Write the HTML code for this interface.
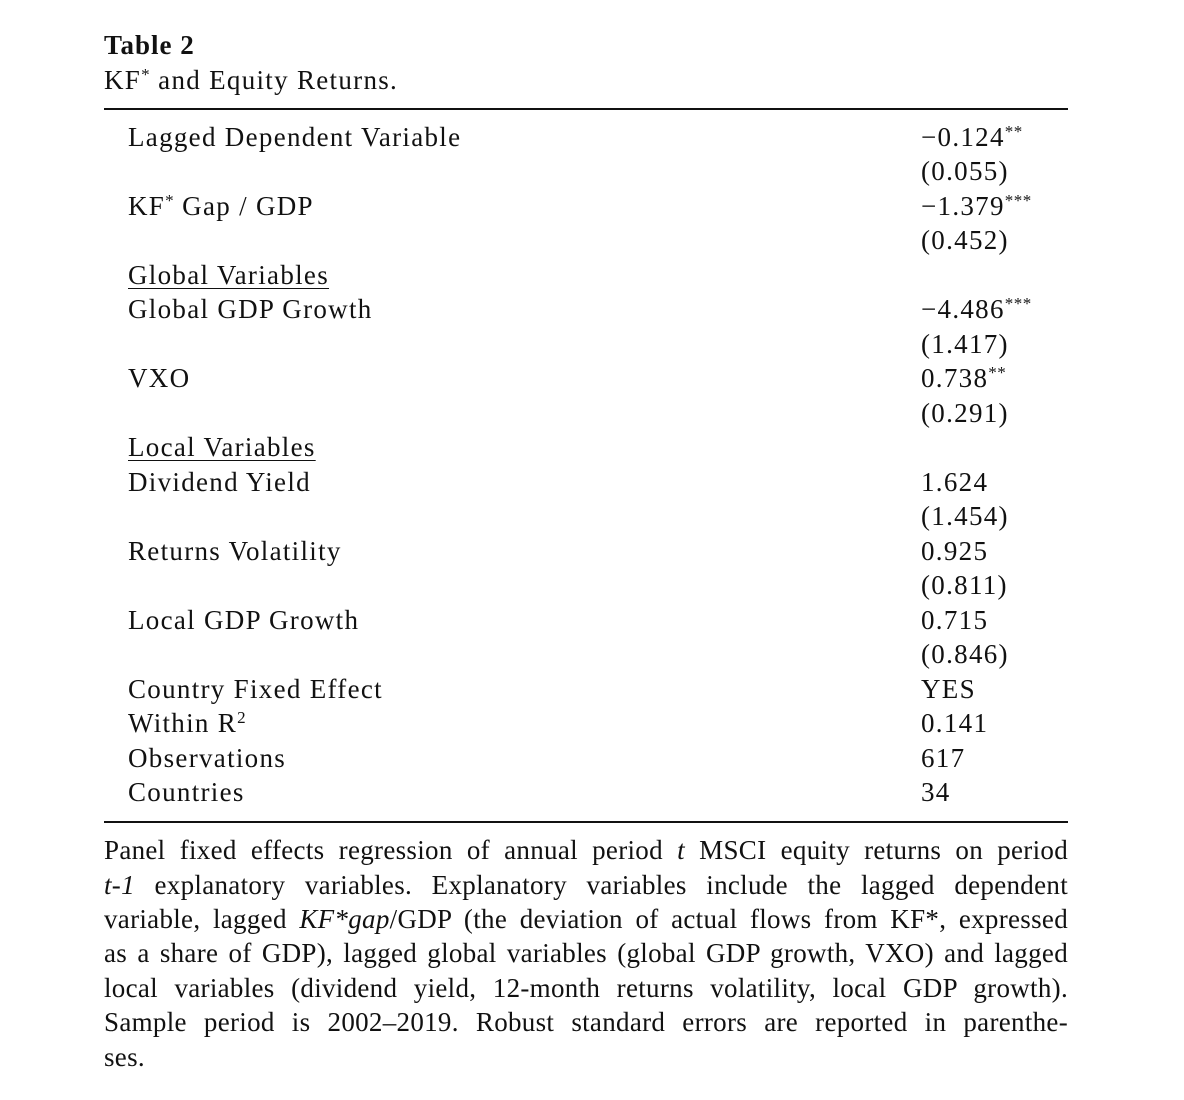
<!DOCTYPE html>
<html>
<head>
<meta charset="utf-8">
<style>
  html,body{margin:0;padding:0;background:#fff;}
  body{width:1184px;height:1100px;position:relative;overflow:hidden;
       font-family:"Liberation Serif",serif;color:#111;font-size:27px;letter-spacing:1.3px;}
  .t{position:absolute;height:34px;line-height:34px;white-space:nowrap;}
  .l{left:128px;}
  .r{left:921px;}
  sup{font-size:17px;line-height:0;vertical-align:9px;letter-spacing:0.5px;}
  .rule{position:absolute;left:104px;width:964px;height:1.5px;background:#111;}
  .cap{position:absolute;left:104px;width:964px;height:34px;line-height:34px;
       text-align:justify;text-align-last:justify;white-space:nowrap;letter-spacing:0.3px;}
  .u{text-decoration:underline;text-underline-offset:4px;text-decoration-thickness:1px;}
</style>
</head>
<body>
<div class="t" style="left:104px;top:28px;font-weight:bold;letter-spacing:1px;">Table 2</div>
<div class="t" style="left:104px;top:63px;">KF<sup>*</sup> and Equity Returns.</div>
<div class="rule" style="top:108px;"></div>

<div class="t l" style="top:120px;">Lagged Dependent Variable</div>
<div class="t r" style="top:120px;">−0.124<sup>**</sup></div>
<div class="t r" style="top:154px;">(0.055)</div>

<div class="t l" style="top:189px;">KF<sup>*</sup> Gap / GDP</div>
<div class="t r" style="top:189px;">−1.379<sup>***</sup></div>
<div class="t r" style="top:223px;">(0.452)</div>

<div class="t l u" style="top:258px;">Global Variables</div>
<div class="t l" style="top:292px;">Global GDP Growth</div>
<div class="t r" style="top:292px;">−4.486<sup>***</sup></div>
<div class="t r" style="top:327px;">(1.417)</div>

<div class="t l" style="top:361px;">VXO</div>
<div class="t r" style="top:361px;">0.738<sup>**</sup></div>
<div class="t r" style="top:396px;">(0.291)</div>

<div class="t l u" style="top:430px;">Local Variables</div>
<div class="t l" style="top:465px;">Dividend Yield</div>
<div class="t r" style="top:465px;">1.624</div>
<div class="t r" style="top:499px;">(1.454)</div>

<div class="t l" style="top:534px;">Returns Volatility</div>
<div class="t r" style="top:534px;">0.925</div>
<div class="t r" style="top:568px;">(0.811)</div>

<div class="t l" style="top:603px;">Local GDP Growth</div>
<div class="t r" style="top:603px;">0.715</div>
<div class="t r" style="top:637px;">(0.846)</div>

<div class="t l" style="top:672px;">Country Fixed Effect</div>
<div class="t r" style="top:672px;">YES</div>
<div class="t l" style="top:706px;">Within R<sup>2</sup></div>
<div class="t r" style="top:706px;">0.141</div>
<div class="t l" style="top:741px;">Observations</div>
<div class="t r" style="top:741px;">617</div>
<div class="t l" style="top:775px;">Countries</div>
<div class="t r" style="top:775px;">34</div>

<div class="rule" style="top:821px;"></div>

<div class="cap" style="top:833px;">Panel fixed effects regression of annual period <i>t</i> MSCI equity returns on period</div>
<div class="cap" style="top:868px;"><i>t-1</i> explanatory variables. Explanatory variables include the lagged dependent</div>
<div class="cap" style="top:902px;">variable, lagged <i>KF*gap</i>/GDP (the deviation of actual flows from KF*, expressed</div>
<div class="cap" style="top:936px;">as a share of GDP), lagged global variables (global GDP growth, VXO) and lagged</div>
<div class="cap" style="top:971px;">local variables (dividend yield, 12-month returns volatility, local GDP growth).</div>
<div class="cap" style="top:1005px;">Sample period is 2002–2019. Robust standard errors are reported in parenthe-</div>
<div class="cap" style="top:1040px;text-align-last:left;">ses.</div>
</body>
</html>
